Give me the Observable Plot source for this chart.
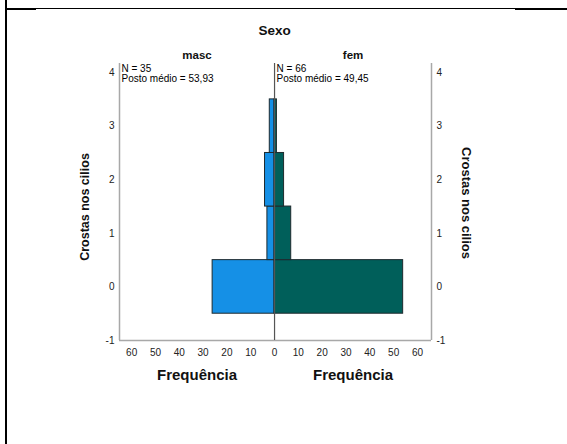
<!DOCTYPE html>
<html>
<head>
<meta charset="utf-8">
<script src="https://cdn.jsdelivr.net/npm/d3@7"></script>
<script src="https://cdn.jsdelivr.net/npm/@observablehq/plot@0.6"></script>
<style>
  html, body { margin: 0; padding: 0; background: #fff; }
  #wrap { position: relative; width: 567px; height: 444px; overflow: hidden; font-family: "Liberation Sans", Arial, sans-serif; }
  .ln { position: absolute; background: #000; }
  svg { position: absolute; left: 0; top: 0; }
</style>
</head>
<body>
<div id="wrap">
  <div class="ln" style="left:5px;top:0;width:2px;height:444px"></div>
  <div class="ln" style="left:6px;top:8px;width:30px;height:2px"></div>
  <div class="ln" style="left:35px;top:8px;width:480px;height:1px"></div>
  <div class="ln" style="left:515px;top:8px;width:52px;height:2px"></div>
</div>
<script>
// Data
const bins = [0, 1, 2, 3];            // Crostas nos cilios
const mascFreq = [26, 3, 4, 2];       // N = 35
const femFreq = [54, 7, 4, 1];        // N = 66
const groups = ["masc", "fem"];
const groupN = [35, 66];
const postoMedio = ["53,93", "49,45"];
const xTicks = [-60, -50, -40, -30, -20, -10, 0, 10, 20, 30, 40, 50, 60];
const yTicks = [-1, 0, 1, 2, 3, 4];

const xDom = [-65.1, 65.9];
const yDom = [-1, 4.17];

const bars = [
  ...bins.map((b, i) => ({group: "masc", bin: b, f: mascFreq[i]})),
  ...bins.map((b, i) => ({group: "fem", bin: b, f: femFreq[i]}))
];

const font = `"Liberation Sans", Arial, sans-serif`;
const colors = {masc: "#1590e6", fem: "#005f5a"};

const plot = Plot.plot({
  width: 567,
  height: 444,
  marginLeft: 119,
  marginRight: 136,
  marginTop: 63,
  marginBottom: 104,
  style: {fontFamily: font, fontSize: "10px", color: "#222", background: "transparent"},
  x: {domain: xDom},
  y: {domain: yDom},
  marks: [
    Plot.rectX(bars, {
      x1: d => d.group === "masc" ? -d.f : 0,
      x2: d => d.group === "masc" ? 0 : d.f,
      y1: d => d.bin - 0.5,
      y2: d => d.bin + 0.5,
      fill: d => colors[d.group],
      stroke: "#1e2a2e",
      strokeWidth: 1,
      inset: 0
    }),
    Plot.ruleX(xDom, {stroke: "#a8a8a8", strokeWidth: 1.5}),
    Plot.ruleY([yDom[0]], {stroke: "#a8a8a8", strokeWidth: 1.5}),
    Plot.ruleX([0], {stroke: "#555", strokeWidth: 1.2}),
    Plot.axisX({ticks: xTicks, tickSize: 0, tickPadding: 8, tickFormat: d => `${Math.abs(d)}`, fontSize: 10, label: null}),
    Plot.axisY({ticks: yTicks, tickSize: 0, tickPadding: 5, anchor: "left", tickFormat: d => `${d}`, fontSize: 10, label: null}),
    Plot.axisY({ticks: yTicks, tickSize: 0, tickPadding: 5, anchor: "right", tickFormat: d => `${d}`, fontSize: 10, label: null}),
    // Titles
    Plot.text(["Sexo"], {x: 0, frameAnchor: "top", dy: -38, fontWeight: "bold", fontSize: 13.5, fill: "#111"}),
    Plot.text(groups, {x: (d, i) => i === 0 ? (xDom[0]) / 2 : (xDom[1]) / 2, frameAnchor: "top", dy: -13, fontWeight: "bold", fontSize: 11.5, fill: "#111"}),
    Plot.text(groups, {x: (d, i) => i === 0 ? (xDom[0]) / 2 : (xDom[1]) / 2, text: () => "Frequência", frameAnchor: "bottom", dy: 39, fontWeight: "bold", fontSize: 15, fill: "#111"}),
    Plot.text(["Crostas nos cilios"], {frameAnchor: "left", textAnchor: "middle", dx: -35, dy: 5, rotate: -90, fontWeight: "bold", fontSize: 12.5, fill: "#111"}),
    Plot.text(["Crostas nos cilios"], {frameAnchor: "right", textAnchor: "middle", dx: 35, dy: 1, rotate: 90, fontWeight: "bold", fontSize: 13, fill: "#111", letterSpacing: "1.2px"}),
    // N annotations
    Plot.text(groups, {
      x: (d, i) => i === 0 ? xDom[0] : 0,
      text: (d, i) => `N = ${groupN[i]}\nPosto médio = ${postoMedio[i]}`,
      frameAnchor: "top", dy: 1, dx: 2, textAnchor: "start", lineAnchor: "top",
      lineHeight: 1.05, fontSize: 10, fill: "#000"
    })
  ]
});
document.getElementById("wrap").appendChild(plot);
</script>
</body>
</html>
